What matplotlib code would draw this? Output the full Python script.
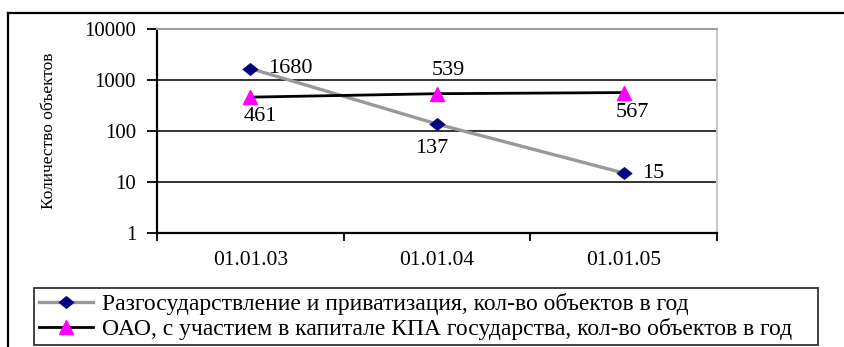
import matplotlib
matplotlib.use("Agg")
import matplotlib.pyplot as plt
from matplotlib.lines import Line2D
import numpy as np

categories = ["01.01.03", "01.01.04", "01.01.05"]
privatization = [1680, 137, 15]
oao = [461, 539, 567]
series_names = ["Разгосударствление и приватизация, кол-во объектов в год",
                "ОАО, с участием в капитале КПА государства, кол-во объектов в год"]
ytick_vals = [1, 10, 100, 1000, 10000]
ytick_labels = ["1", "10", "100", "1000", "10000"]

plt.rcParams['font.family'] = ['Liberation Serif', 'DejaVu Serif']

W, H = 844, 347
fig = plt.figure(figsize=(W/100, H/100), dpi=100)
ax = fig.add_axes([157/W, 1-233/H, (717-157)/W, (233-29)/H])

diamond = [(-1, 0), (0, 0.8), (1, 0), (0, -0.8), (-1, 0)]

x = np.arange(len(categories))
ax.plot(x, privatization, color="#999999", lw=2.4, marker=diamond, ms=11,
        mfc="#000080", mec="#000080", mew=0.5, zorder=3, label=series_names[0])
ax.plot(x, oao, color="black", lw=2.0, marker="^", ms=10,
        mfc="#FF00FF", mec="#FF00FF", zorder=3, label=series_names[1])

ax.set_yscale("log")
ax.set_ylim(1, 10000)
ax.set_yticks(ytick_vals)
ax.set_yticklabels(ytick_labels, fontsize=15)
ax.yaxis.set_minor_locator(matplotlib.ticker.NullLocator())
ax.set_xlim(-0.5, len(categories)-0.5)
ax.set_xticks(np.arange(len(categories)+1)-0.5)
ax.set_xticklabels([])
ax.set_xticks(x, minor=True)
ax.set_xticklabels(categories, minor=True, fontsize=15.5)
ax.tick_params(axis="x", which="minor", length=0, pad=13)
ax.tick_params(axis="x", which="major", length=6, width=1.3, direction="out", color="black")
ax.tick_params(axis="y", length=7, width=1.3, direction="out", pad=8)

for v in [10, 100, 1000]:
    ax.axhline(v, color="#333333", lw=1.4, zorder=1)
ax.spines["left"].set_color("black")
ax.spines["left"].set_linewidth(1.6)
ax.spines["bottom"].set_color("black")
ax.spines["bottom"].set_linewidth(1.6)
ax.spines["top"].set_color("#a0a0a0")
ax.spines["top"].set_linewidth(1.5)
ax.spines["right"].set_color("#c8c8c8")
ax.spines["right"].set_linewidth(1.5)

ax.set_ylabel("Количество объектов", fontsize=12.5, labelpad=20)

fs = 16
def lab(xv, yv, dx, dy, ha="center"):
    ax.annotate(str(yv), (xv, yv), xytext=(dx, dy), textcoords="offset points",
                va="center", ha=ha, fontsize=fs)

lab(x[0], privatization[0], 13, 0, "left")
lab(x[1], privatization[1], -4, -17.5)
lab(x[2], privatization[2], 13.5, 0, "left")
lab(x[0], oao[0], 7, -14)
lab(x[1], oao[1], 8, 17)
lab(x[2], oao[2], 6, -14)

leg = fig.legend(loc="lower left", bbox_to_anchor=(34/W, 2/H, (818-34)/W, (345-286)/H),
                 mode="expand", fontsize=17, frameon=True, fancybox=False,
                 edgecolor="black", handlelength=2.3, handletextpad=0.35,
                 borderaxespad=0, labelspacing=0.12, borderpad=0.22, handleheight=0.6)
leg.get_frame().set_linewidth(1.3)

# outer chart frame (cut by the image edges)
fig.add_artist(Line2D([8/W, 1.0], [1-13/H, 1-13/H], color="black", lw=1.6, transform=fig.transFigure))
fig.add_artist(Line2D([8/W, 8/W], [0, 1-13/H], color="black", lw=1.6, transform=fig.transFigure))

fig.savefig("out.png", dpi=100)
